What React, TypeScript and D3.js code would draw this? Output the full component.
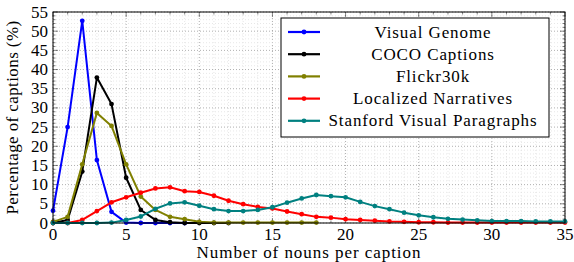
import React from 'react';
import * as d3 from 'd3';

// number of nouns per caption (x) starting at 0
const visualGenome = [3.2, 25, 52.7, 16.4, 2.9, 0.1, 0, 0, 0, 0];
const cocoCaptions = [0, 0.8, 13.4, 37.9, 31, 11.8, 3.4, 0.8, 0.2, 0, 0, 0, 0];
const flickr30k = [0.3, 1.6, 15.3, 28.7, 25.3, 15.3, 6.9, 3.4, 1.6, 1.0, 0.3, 0.1, 0.1, 0.1, 0.1, 0.1, 0.1, 0.1, 0.1];
const localizedNarratives = [
  0, 0, 0.8, 3.1, 5.4, 6.7, 7.9, 9.0, 9.3, 8.3, 8.1, 7.1, 5.8, 4.9, 4.2, 3.8, 3.0, 2.3, 1.6, 1.4,
  1.0, 0.8, 0.6, 0.4, 0.3, 0.2, 0.2, 0.1, 0.1, 0.1, 0.1, 0.1, 0.1, 0.1, 0.1, 0.1,
];
const stanfordParagraphs = [
  0, 0, 0, 0, 0.1, 0.8, 1.7, 3.7, 5.1, 5.4, 4.5, 3.6, 3.1, 3.1, 3.4, 4.1, 5.3, 6.4, 7.3, 7.0,
  6.7, 5.5, 4.4, 3.6, 2.7, 2.0, 1.5, 1.1, 0.9, 0.7, 0.5, 0.5, 0.5, 0.4, 0.4, 0.4,
];

const seriesNames = ['Visual Genome', 'COCO Captions', 'Flickr30k', 'Localized Narratives', 'Stanford Visual Paragraphs'];
const seriesValues = [visualGenome, cocoCaptions, flickr30k, localizedNarratives, stanfordParagraphs];
const seriesColors = ['#0000ff', '#000000', '#808000', '#ff0000', '#008080'];

const xTicks = [0, 5, 10, 15, 20, 25, 30, 35];
const yTicks = [0, 5, 10, 15, 20, 25, 30, 35, 40, 45, 50, 55];

const font = { fontFamily: "'Liberation Serif'" };

export default function App() {
  const width = 574;
  const height = 262;
  const margin = { top: 12, right: 9, bottom: 39, left: 53 };
  const innerW = width - margin.left - margin.right;
  const innerH = height - margin.top - margin.bottom;

  const x = d3.scaleLinear().domain([0, 35]).range([0, innerW]);
  const y = d3.scaleLinear().domain([0, 55]).range([innerH, 0]);
  const line = d3.line<number>().x((_, i) => x(i)).y(d => y(d));

  const xMinor = d3.range(0, 36);
  const yMinor = d3.range(0, 56);

  return (
    <svg width={width} height={height} style={{ position: 'absolute', left: 0, top: 0, background: '#fff' }}>
      <g transform={`translate(${margin.left},${margin.top})`}>
        {/* grid */}
        {xMinor.map(d => (
          <line key={'gx' + d} x1={x(d)} x2={x(d)} y1={0} y2={innerH}
            stroke={d % 5 === 0 ? '#9a9a9a' : '#d6d6d6'} strokeWidth={d % 5 === 0 ? 0.8 : 0.6} strokeDasharray="1,2" />
        ))}
        {yMinor.map(d => (
          <line key={'gy' + d} x1={0} x2={innerW} y1={y(d)} y2={y(d)}
            stroke={d % 5 === 0 ? '#9a9a9a' : '#d6d6d6'} strokeWidth={d % 5 === 0 ? 0.8 : 0.6} strokeDasharray="1,2" />
        ))}

        {/* inward ticks on all four sides */}
        <g stroke="#333" strokeWidth={0.6}>
          {xMinor.map(d => {
            const len = d % 5 === 0 ? 5 : 2.5;
            return (
              <g key={'tx' + d}>
                <line x1={x(d)} x2={x(d)} y1={innerH} y2={innerH - len} />
                <line x1={x(d)} x2={x(d)} y1={0} y2={len} />
              </g>
            );
          })}
          {yMinor.map(d => {
            const len = d % 5 === 0 ? 5 : 2.5;
            return (
              <g key={'ty' + d}>
                <line x1={0} x2={len} y1={y(d)} y2={y(d)} />
                <line x1={innerW} x2={innerW - len} y1={y(d)} y2={y(d)} />
              </g>
            );
          })}
        </g>

        {/* series */}
        {seriesValues.map((vals, k) => (
          <g key={seriesNames[k]}>
            <path d={line(vals) || ''} fill="none" stroke={seriesColors[k]} strokeWidth={2} strokeLinejoin="round" />
            {vals.map((v, i) => (
              <circle key={i} cx={x(i)} cy={y(v)} r={2.4} fill={seriesColors[k]} />
            ))}
          </g>
        ))}

        <rect width={innerW} height={innerH} fill="none" stroke="#000" strokeWidth={1} />

        {/* tick labels */}
        {xTicks.map(d => (
          <text key={'lx' + d} x={x(d)} y={innerH + 17} textAnchor="middle" fontSize={17} style={font}>{d}</text>
        ))}
        {yTicks.map(d => (
          <text key={'ly' + d} x={-5} y={y(d) + 5.5} textAnchor="end" fontSize={17} style={font}>{d}</text>
        ))}
      </g>

      {/* axis labels */}
      <text x={margin.left + innerW / 2} y={258} textAnchor="middle" fontSize={17}
        style={{ ...font, letterSpacing: '0.95px' }}>Number of nouns per caption</text>
      <text transform={`translate(18,${margin.top + innerH / 2}) rotate(-90)`} textAnchor="middle" fontSize={17}
        style={{ ...font, letterSpacing: '0.4px' }}>Percentage of captions (%)</text>

      {/* legend */}
      <g transform="translate(281,18)">
        <rect width={268} height={119} fill="#fff" stroke="#000" strokeWidth={1} />
        {seriesNames.map((name, k) => {
          const yy = 14 + k * 22.2;
          return (
            <g key={name}>
              <line x1={7} x2={39} y1={yy} y2={yy} stroke={seriesColors[k]} strokeWidth={2.2} />
              <circle cx={23} cy={yy} r={2.4} fill={seriesColors[k]} />
              <text x={152} y={yy + 5.5} textAnchor="middle" fontSize={17}
                style={{ ...font, letterSpacing: '0.9px' }}>{name}</text>
            </g>
          );
        })}
      </g>
    </svg>
  );
}
